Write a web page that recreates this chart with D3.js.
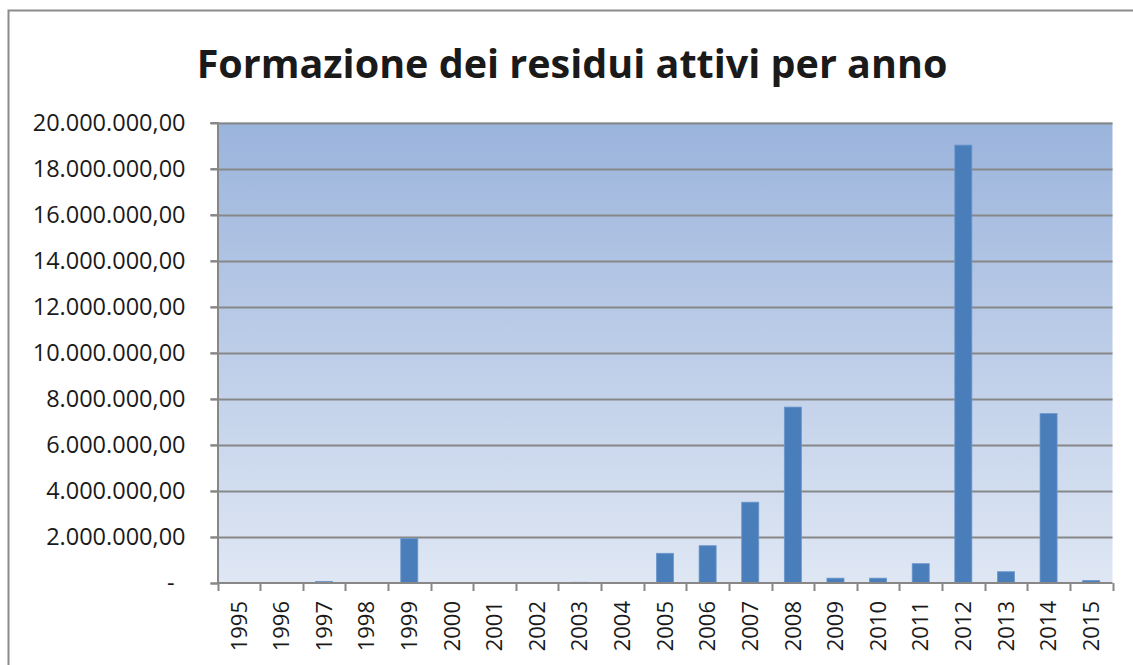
<!DOCTYPE html>
<html>
<head>
<meta charset="utf-8">
<script src="https://cdn.jsdelivr.net/npm/d3@7"></script>
<style>
    html, body { margin: 0; padding: 0; background: #fff; }
    svg { display: block; }
</style>
</head>
<body>
<script>
// data
var years = ['1995', '1996', '1997', '1998', '1999', '2000', '2001', '2002', '2003', '2004', '2005',
    '2006', '2007', '2008', '2009', '2010', '2011', '2012', '2013', '2014', '2015'];
var residui = [0, 0, 70000, 0, 1930000, 0, 0, 0, 30000, 0, 1290000,
    1620000, 3510000, 7640000, 210000, 210000, 840000, 19020000, 490000, 7360000, 110000];
var yTicks = [0, 2000000, 4000000, 6000000, 8000000, 10000000, 12000000, 14000000, 16000000, 18000000, 20000000];
var title = 'Formazione dei residui attivi per anno';

var width = 1133,
    height = 665;

var plot = { left: 217.5, top: 122.5, right: 1112.5, bottom: 583 };

var locale = d3.formatLocale({ decimal: ',', thousands: '.', grouping: [3], currency: ['', ' €'] });
var fmt = locale.format(',.2f');

var svg = d3.select('body').append('svg')
    .attr('width', width)
    .attr('height', height);

var defs = svg.append('defs');
var grad = defs.append('linearGradient')
    .attr('id', 'bg')
    .attr('x1', 0).attr('y1', 0)
    .attr('x2', 0).attr('y2', 1);
grad.append('stop').attr('offset', '0%').attr('stop-color', '#9bb4dc');
grad.append('stop').attr('offset', '100%').attr('stop-color', '#dfe7f4');

// outer chart frame
svg.append('rect')
    .attr('x', 8.5)
    .attr('y', 10.5)
    .attr('width', 1140)
    .attr('height', 680)
    .attr('fill', '#fff')
    .attr('stroke', '#8c8c8c')
    .attr('stroke-width', 2);

svg.append('text')
    .attr('x', 572)
    .attr('y', 78)
    .attr('text-anchor', 'middle')
    .attr('font-family', '"Open Sans", sans-serif')
    .attr('font-weight', 'bold')
    .attr('font-size', 39.5)
    .attr('fill', '#1a1a1a')
    .text(title);

var x = d3.scaleBand()
    .domain(years)
    .range([plot.left, plot.right])
    .paddingInner(0.6)
    .paddingOuter(0.3);

var xb = d3.scaleBand()
    .domain(years)
    .range([plot.left, plot.right]);

var y = d3.scaleLinear()
    .domain([0, 20000000])
    .range([plot.bottom, plot.top]);

svg.append('rect')
    .attr('x', plot.left)
    .attr('y', plot.top)
    .attr('width', plot.right - plot.left)
    .attr('height', plot.bottom - plot.top)
    .attr('fill', 'url(#bg)');

// gridlines
svg.append('g')
    .selectAll('line')
    .data(yTicks.filter(function(d) { return d > 0; }))
    .enter().append('line')
    .attr('x1', plot.left - 7)
    .attr('x2', plot.right)
    .attr('y1', function(d) { return Math.round(y(d)) + 0.5; })
    .attr('y2', function(d) { return Math.round(y(d)) + 0.5; })
    .attr('stroke', '#878787')
    .attr('stroke-width', 2);

// bars
svg.append('g')
    .selectAll('rect')
    .data(years)
    .enter().append('rect')
    .attr('x', function(d) { return x(d); })
    .attr('y', function(d, i) { return y(residui[i]); })
    .attr('width', x.bandwidth())
    .attr('height', function(d, i) { return plot.bottom - y(residui[i]); })
    .attr('fill', '#4a7ebb')
    .attr('stroke', '#6d97cc')
    .attr('stroke-width', 0.8);

// y axis
var yAxis = svg.append('g')
    .attr('transform', 'translate(' + plot.left + ',0)')
    .call(d3.axisLeft(y)
        .tickValues(yTicks)
        .tickSize(7)
        .tickPadding(25)
        .tickFormat(function(d) { return d === 0 ? '-' : fmt(d); }));
yAxis.select('.domain').attr('stroke', '#878787').attr('stroke-width', 2);
yAxis.selectAll('.tick line').attr('stroke', '#878787').attr('stroke-width', 2);
yAxis.selectAll('.tick text')
    .attr('font-family', '"Open Sans", sans-serif')
    .attr('font-size', 23.5)
    .attr('fill', '#1a1a1a');
yAxis.selectAll('.tick').filter(function(d) { return d === 0; }).select('text')
    .attr('dx', -11);

// x axis: ticks sit on category boundaries
var xAxis = svg.append('g')
    .attr('transform', 'translate(0,' + plot.bottom + ')')
    .call(d3.axisBottom(xb).tickSize(0).tickPadding(0));
xAxis.select('.domain').remove();
xAxis.append('line')
    .attr('x1', plot.left)
    .attr('x2', plot.right)
    .attr('stroke', '#878787')
    .attr('stroke-width', 2);
xAxis.selectAll('.bnd')
    .data(years.concat(['end']))
    .enter().append('line')
    .attr('class', 'bnd')
    .attr('x1', function(d, i) { return Math.round(plot.left + i * xb.bandwidth()) + 0.5; })
    .attr('x2', function(d, i) { return Math.round(plot.left + i * xb.bandwidth()) + 0.5; })
    .attr('y1', 0)
    .attr('y2', 8)
    .attr('stroke', '#878787')
    .attr('stroke-width', 2);
xAxis.selectAll('.tick text')
    .attr('transform', 'rotate(-90)')
    .attr('text-anchor', 'end')
    .attr('x', -18)
    .attr('y', 0)
    .attr('dy', '0.35em')
    .attr('font-family', '"Open Sans", sans-serif')
    .attr('font-size', 22)
    .attr('fill', '#1a1a1a');
</script>
</body>
</html>
